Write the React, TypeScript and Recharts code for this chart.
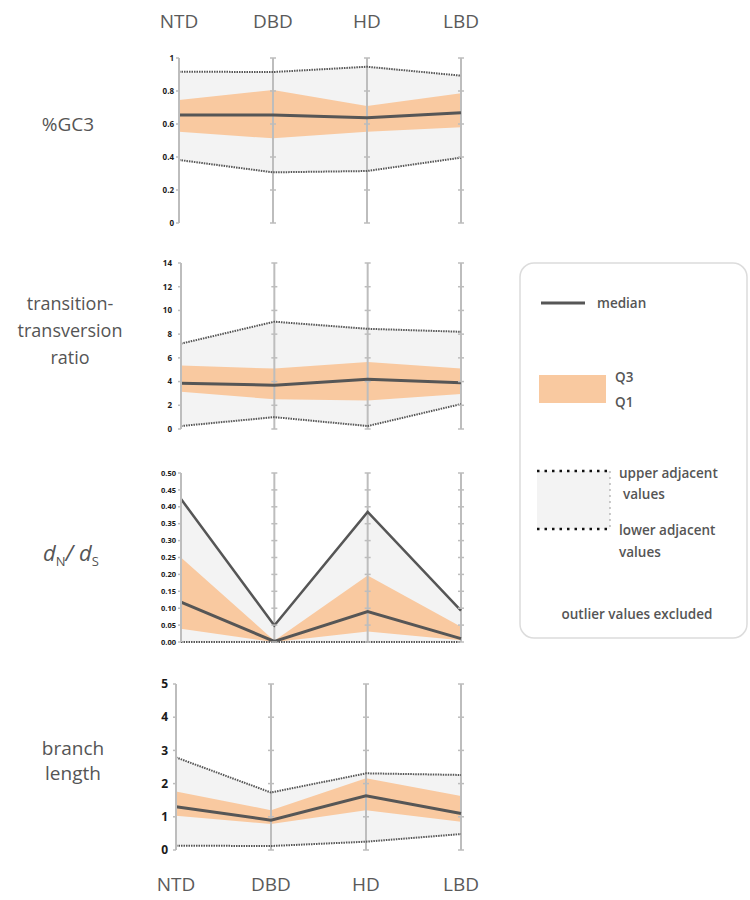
import React from 'react';
import { ComposedChart, Area, Line, XAxis, YAxis, ReferenceLine, Scatter } from 'recharts';

const categories = ['NTD', 'DBD', 'HD', 'LBD'];

// %GC3
const gcUpper = [0.917, 0.915, 0.947, 0.893];
const gcQ3 = [0.745, 0.806, 0.709, 0.786];
const gcMedian = [0.655, 0.655, 0.638, 0.668];
const gcQ1 = [0.553, 0.513, 0.553, 0.58];
const gcLower = [0.382, 0.307, 0.315, 0.396];
const gcTicks = [0, 0.2, 0.4, 0.6, 0.8, 1];

// transition-transversion ratio
const ttUpper = [7.2, 9.05, 8.45, 8.2];
const ttQ3 = [5.35, 5.1, 5.65, 5.1];
const ttMedian = [3.85, 3.7, 4.2, 3.9];
const ttQ1 = [3.15, 2.5, 2.4, 2.95];
const ttLower = [0.25, 1.0, 0.25, 2.1];
const ttTicks = [0, 2, 4, 6, 8, 10, 12, 14];

// dN/dS
const dnUpper = [0.423, 0.049, 0.385, 0.093];
const dnQ3 = [0.25, 0.004, 0.197, 0.045];
const dnMedian = [0.118, 0.002, 0.09, 0.01];
const dnQ1 = [0.039, 0.0, 0.031, 0.005];
const dnLower = [0, 0, 0, 0];
const dnTicks = [0, 0.05, 0.1, 0.15, 0.2, 0.25, 0.3, 0.35, 0.4, 0.45, 0.5];

// branch length
const blUpper = [2.79, 1.73, 2.31, 2.26];
const blQ3 = [1.76, 1.2, 2.16, 1.63];
const blMedian = [1.3, 0.9, 1.63, 1.1];
const blQ1 = [1.03, 0.78, 1.2, 0.85];
const blLower = [0.13, 0.12, 0.25, 0.48];
const blTicks = [0, 1, 2, 3, 4, 5];

const categoryIndex = categories.map((_, i) => i);

function buildRows(upper: number[], q3: number[], median: number[], q1: number[], lower: number[]) {
  return categories.map((c, i) => ({
    i,
    cat: c,
    upper: upper[i],
    q3: q3[i],
    median: median[i],
    q1: q1[i],
    lower: lower[i],
    band: [lower[i], upper[i]],
    iqr: [q1[i], q3[i]],
  }));
}

function buildCrosses(ticks: number[]) {
  const out: { i: number; v: number }[] = [];
  for (let i = 1; i < categories.length; i++) {
    for (const t of ticks) out.push({ i, v: t });
  }
  return out;
}

const GRAY_FILL = '#f3f3f3';
const ORANGE = '#f9c9a0';
const DARK = '#565656';
const AXIS = '#bdbdbd';

const CrossTick = (props: any) => {
  const { cx, cy } = props;
  if (cx == null || cy == null) return <g />;
  return <line x1={cx - 3} x2={cx + 3} y1={cy} y2={cy} stroke={AXIS} strokeWidth={1.5} />;
};

type PanelProps = {
  rows: any[];
  ticks: number[];
  domain: [number, number];
  top: number;
  height: number;
  yWidth: number;
  marginTop: number;
  marginBottom: number;
  xAxis: 'top' | 'bottom' | 'none';
  xHeight?: number;
  tickFontSize: number;
  tickMargin: number;
  fmt?: (v: number) => string;
  upperSolid?: boolean;
  lowerColor?: string;
};

const Panel = (p: PanelProps) => {
  const crosses = buildCrosses(p.ticks);
  return (
    <div style={{ position: 'absolute', left: 120, top: p.top }}>
      <ComposedChart
        width={371}
        height={p.height}
        data={p.rows}
        margin={{ top: p.marginTop, right: 30, bottom: p.marginBottom, left: 0 }}
      >
        <XAxis
          type="number"
          dataKey="i"
          domain={[0, categories.length - 1]}
          ticks={categoryIndex}
          tickFormatter={(v: number) => categories[v]}
          hide={p.xAxis === 'none'}
          orientation={p.xAxis === 'top' ? 'top' : 'bottom'}
          height={p.xHeight ?? 30}
          axisLine={false}
          tickLine={false}
          tickSize={0}
          tickMargin={p.xAxis === 'top' ? 30 : 28}
          tick={{ fontSize: 19, fill: '#5a5a5a', fontFamily: 'Open Sans' }}
          interval={0}
        />
        <YAxis
          type="number"
          domain={p.domain}
          ticks={p.ticks}
          width={p.yWidth}
          interval={0}
          axisLine={{ stroke: AXIS, strokeWidth: 2 }}
          tickLine={{ stroke: AXIS, strokeWidth: 1.5 }}
          tickSize={3}
          tickMargin={p.tickMargin}
          tickFormatter={p.fmt}
          tick={{ fontSize: p.tickFontSize, fill: '#1a1a1a', fontWeight: 700, fontFamily: 'Open Sans' }}
        />
        <Area
          type="linear"
          dataKey="band"
          stroke="none"
          fill={GRAY_FILL}
          fillOpacity={1}
          isAnimationActive={false}
        />
        <Area
          type="linear"
          dataKey="iqr"
          stroke="none"
          fill={ORANGE}
          fillOpacity={1}
          isAnimationActive={false}
        />
        {categoryIndex.slice(1).map((i) => (
          <ReferenceLine key={i} x={i} stroke={AXIS} strokeWidth={2} />
        ))}
        <Scatter data={crosses} dataKey="v" shape={<CrossTick />} isAnimationActive={false} />
        <Line
          type="linear"
          dataKey="upper"
          stroke={DARK}
          strokeWidth={p.upperSolid ? 2.5 : 2}
          strokeDasharray={p.upperSolid ? undefined : '1.5 1'}
          dot={false}
          isAnimationActive={false}
        />
        <Line
          type="linear"
          dataKey="lower"
          stroke={p.lowerColor ?? DARK}
          strokeWidth={2}
          strokeDasharray="1.5 1"
          dot={false}
          isAnimationActive={false}
        />
        <Line
          type="linear"
          dataKey="median"
          stroke={DARK}
          strokeWidth={3}
          dot={false}
          isAnimationActive={false}
        />
      </ComposedChart>
    </div>
  );
};

const labelStyle: React.CSSProperties = {
  position: 'absolute',
  transform: 'translate(-50%, -50%)',
  textAlign: 'center',
  color: '#555',
  fontFamily: 'Open Sans',
  fontSize: 18,
  whiteSpace: 'nowrap',
  lineHeight: '27px',
};

const Legend = () => {
  const txt = { fontFamily: 'Open Sans', fontSize: 13.5, fontWeight: 600, fill: '#555' } as const;
  return (
    <svg
      width={230}
      height={378}
      style={{ position: 'absolute', left: 519, top: 262 }}
    >
      <rect x={1} y={1} width={227} height={375} rx={14} fill="#fff" stroke="#dcdcdc" strokeWidth={1.5} />
      <line x1={22} x2={66} y1={41} y2={41} stroke={DARK} strokeWidth={3} />
      <text x={78} y={41} dominantBaseline="central" {...txt}>median</text>
      <rect x={20} y={113} width={67} height={28} fill={ORANGE} />
      <text x={96} y={115} dominantBaseline="central" {...txt}>Q3</text>
      <text x={96} y={140} dominantBaseline="central" {...txt}>Q1</text>
      <rect x={18} y={209} width={73} height={58} fill={GRAY_FILL} />
      <line x1={18} x2={91} y1={209} y2={209} stroke="#111" strokeWidth={2.5} strokeDasharray="2.5 5" />
      <line x1={18} x2={91} y1={267} y2={267} stroke="#111" strokeWidth={2.5} strokeDasharray="2.5 5" />
      <line x1={91} x2={91} y1={209} y2={267} stroke="#999" strokeWidth={1} strokeDasharray="2 4" />
      <text x={100} y={211} dominantBaseline="central" {...txt}>upper adjacent</text>
      <text x={104} y={232} dominantBaseline="central" {...txt}>values</text>
      <text x={100} y={268} dominantBaseline="central" {...txt}>lower adjacent</text>
      <text x={100} y={290} dominantBaseline="central" {...txt}>values</text>
      <text x={118} y={352} textAnchor="middle" dominantBaseline="central" {...txt}>outlier values excluded</text>
    </svg>
  );
};

export default function App() {
  const gcRows = buildRows(gcUpper, gcQ3, gcMedian, gcQ1, gcLower);
  const ttRows = buildRows(ttUpper, ttQ3, ttMedian, ttQ1, ttLower);
  const dnRows = buildRows(dnUpper, dnQ3, dnMedian, dnQ1, dnLower);
  const blRows = buildRows(blUpper, blQ3, blMedian, blQ1, blLower);
  return (
    <div style={{ position: 'absolute', left: 0, top: 0, width: 750, height: 900, background: '#fff', fontFamily: 'Open Sans' }}>
      <Panel rows={gcRows} ticks={gcTicks} domain={[0, 1]} top={0} height={233} yWidth={59} marginTop={0} marginBottom={10}
        xAxis="top" xHeight={58} tickFontSize={8} tickMargin={2} />
      <Panel rows={ttRows} ticks={ttTicks} domain={[0, 14]} top={253} height={186} yWidth={61} marginTop={10} marginBottom={10}
        xAxis="none" tickFontSize={8} tickMargin={6} />
      <Panel rows={dnRows} ticks={dnTicks} domain={[0, 0.5]} top={463} height={189} yWidth={61} marginTop={10} marginBottom={10}
        xAxis="none" tickFontSize={7.5} tickMargin={2} fmt={(v) => v.toFixed(2)} upperSolid />
      <Panel rows={blRows} ticks={blTicks} domain={[0, 5]} top={674} height={226} yWidth={56} marginTop={10} marginBottom={0}
        xAxis="bottom" xHeight={50} tickFontSize={12} tickMargin={5} />

      <div style={{ ...labelStyle, left: 68, top: 124, fontSize: 19 }}>%GC3</div>
      <div style={{ ...labelStyle, left: 70, top: 330 }}>
        transition-<br />transversion<br />ratio
      </div>
      <div style={{ ...labelStyle, left: 71, top: 552, fontSize: 22, fontStyle: 'italic' }}>
        d<sub style={{ fontSize: 13, fontStyle: 'normal', verticalAlign: 'sub', lineHeight: 0 }}>N</sub>/ d<sub style={{ fontSize: 13, fontStyle: 'normal', verticalAlign: 'sub', lineHeight: 0 }}>S</sub>
      </div>
      <div style={{ ...labelStyle, left: 73, top: 761, fontSize: 19, lineHeight: '25px' }}>
        branch<br />length
      </div>
      <Legend />
    </div>
  );
}
